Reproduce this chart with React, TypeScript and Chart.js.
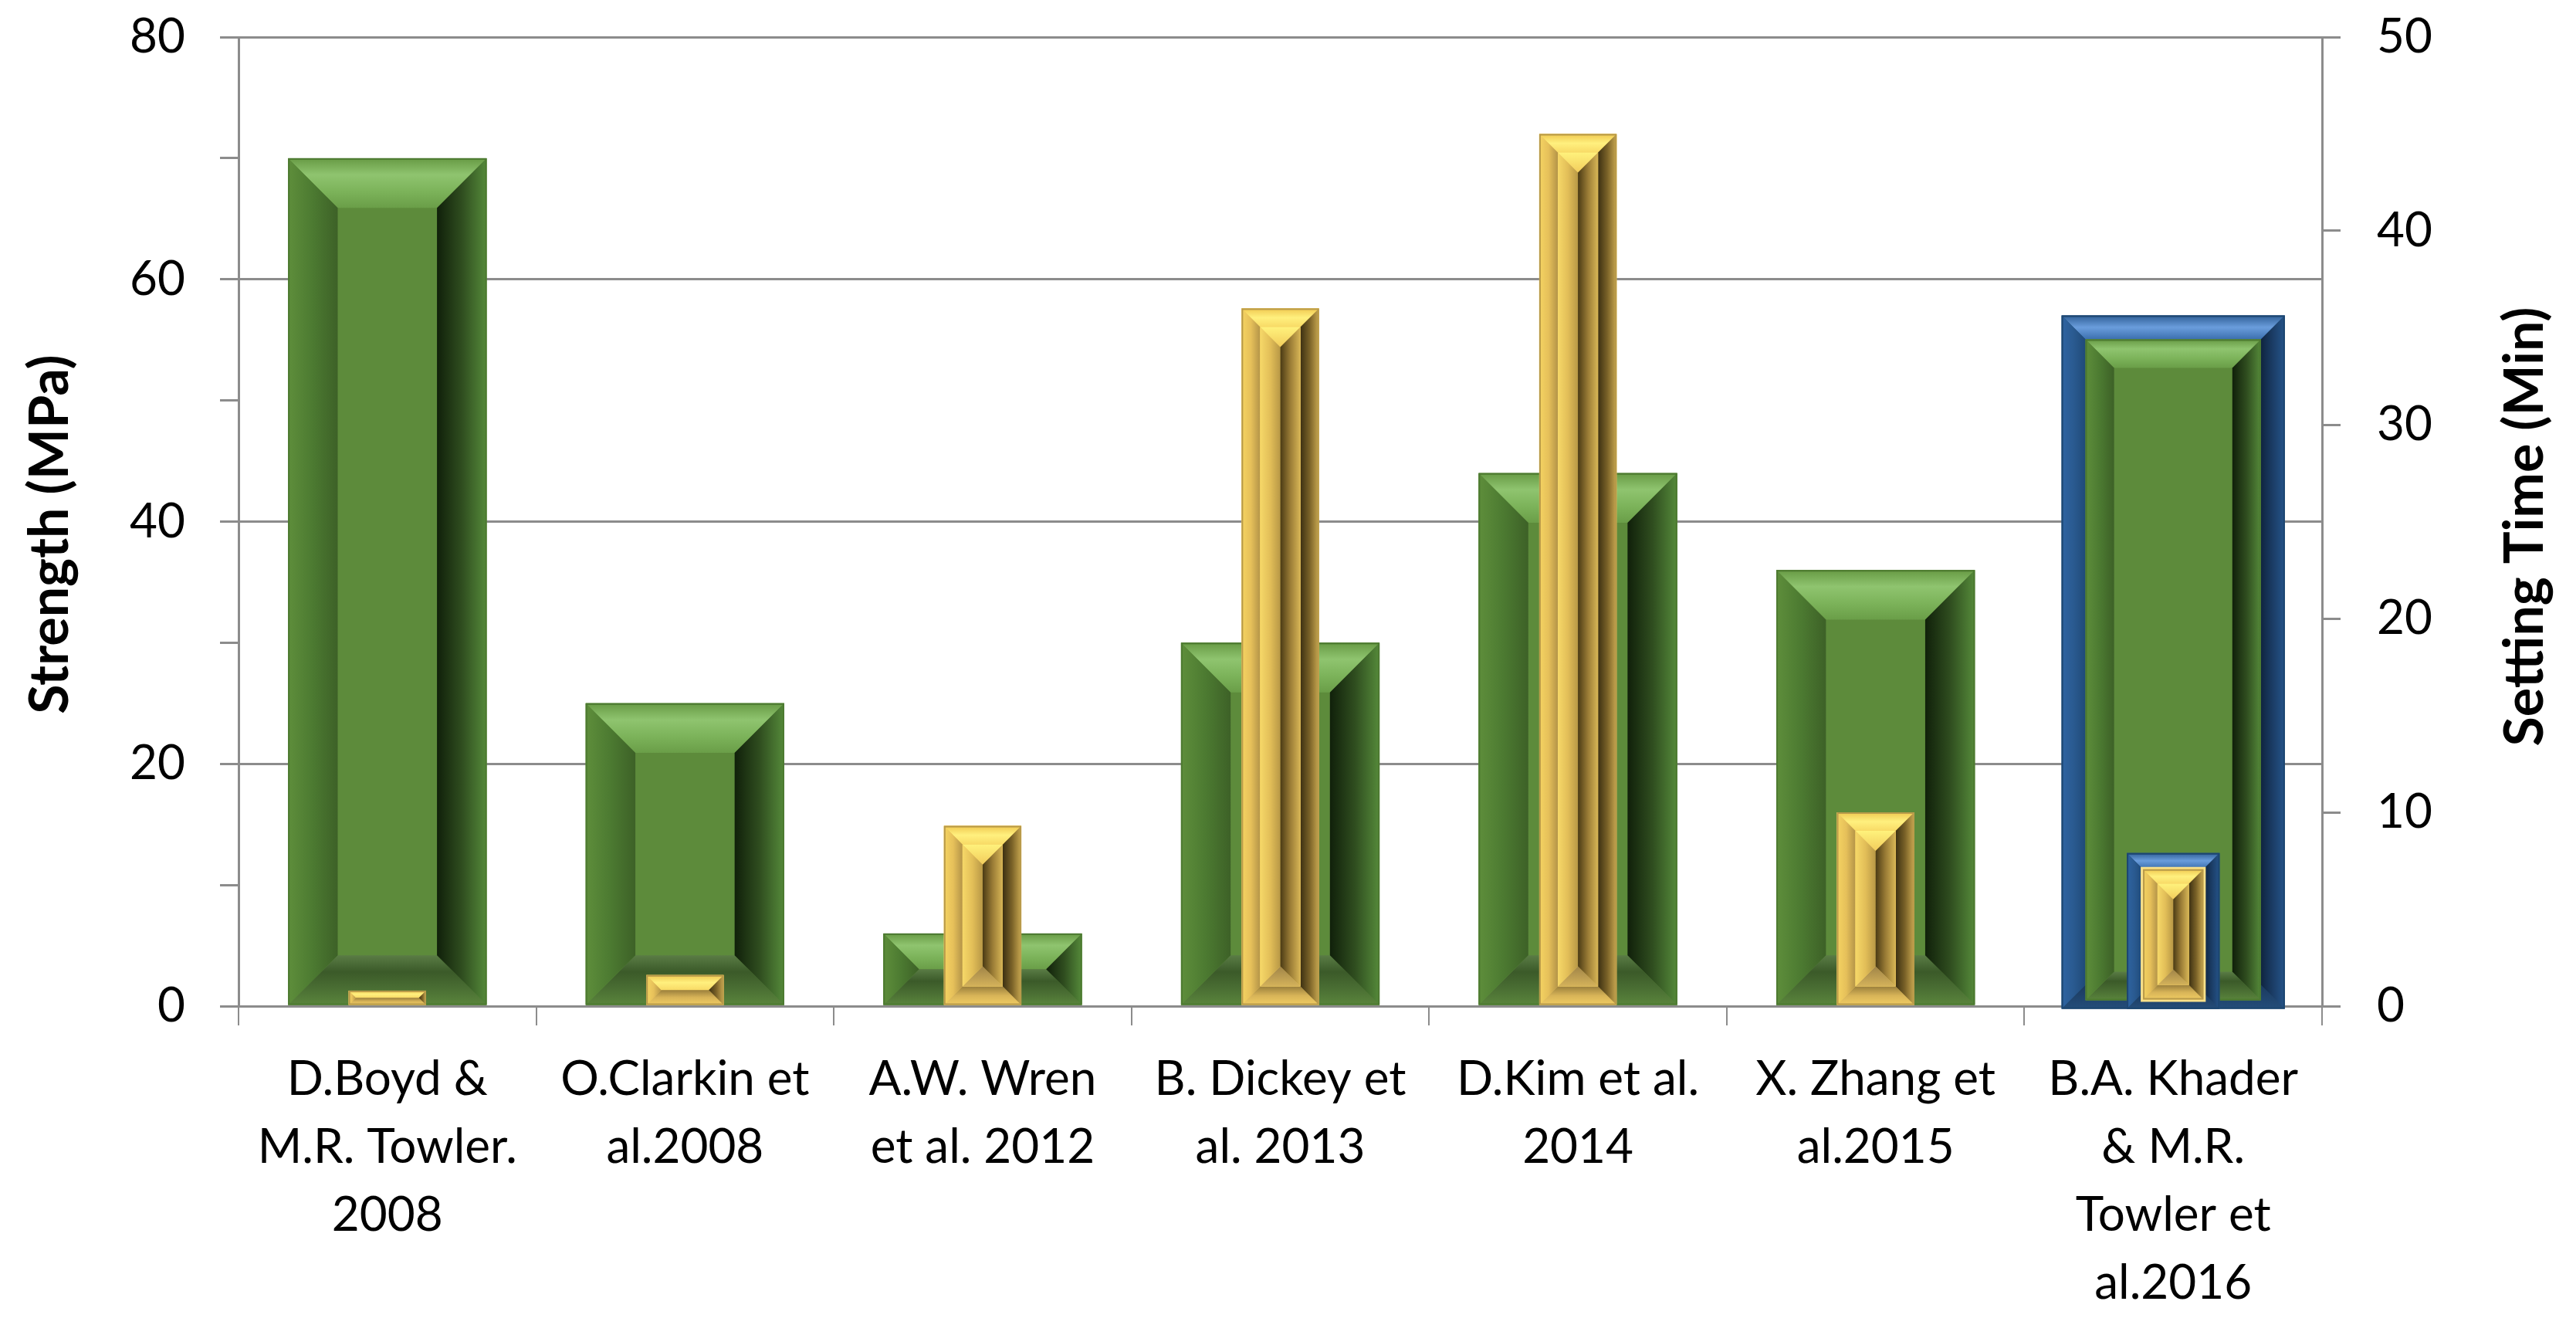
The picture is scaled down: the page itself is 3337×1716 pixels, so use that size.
import { useEffect, useRef } from "react";
import { Chart, registerables } from "chart.js";

Chart.register(...registerables);

const categories = [
  ["D.Boyd &", "M.R. Towler.", "2008"],
  ["O.Clarkin et", "al.2008"],
  ["A.W. Wren", "et al. 2012"],
  ["B. Dickey et", "al. 2013"],
  ["D.Kim et al.", "2014"],
  ["X. Zhang et", "al.2015"],
  ["B.A. Khader", "& M.R.", "Towler et", "al.2016"],
];
const strength = [70, 25, 6, 30, 44, 36, 56];
const settingTime = [0.8, 1.6, 9.3, 36, 45, 10, 7.5];
const strengthTicks = [0, 10, 20, 30, 40, 50, 60, 70, 80];
const timeTicks = [0, 10, 20, 30, 40, 50];
const highlighted = 6;

const leftTitle = "Strength (MPa)";
const rightTitle = "Setting Time (Min)";

const gray = "#8c8c8c";
const font = "Lato";

type Pal = {
  face?: string;
  top: string[];
  bottom: string[];
  left: string[];
  right: string[];
  edge?: string;
};

const greenPal: Pal = {
  face: "#5d8b3b",
  top: ["#679a44", "#8fc46f", "#7cb35a", "#6a9e48"],
  bottom: ["#5a7c45", "#3b5a29", "#4a6e33", "#5a853c"],
  left: ["#5e8e3b", "#4c7a31", "#3d6127"],
  right: ["#10200a", "#2f4d1f", "#558a3a"],
  edge: "#4d7a31",
};
const yellowOuter: Pal = {
  face: "#f2cb5e",
  top: ["#f0c850", "#fff07e", "#f8da66"],
  bottom: ["#9a7f3c", "#d8b458", "#f0cc62"],
  left: ["#f5d462", "#e6c05a", "#b49448"],
  right: ["#3c3012", "#7a6228", "#c9a850"],
  edge: "#b89a4a",
};
const yellowInner: Pal = {
  face: "#f4d064",
  top: ["#fff27c", "#f2cc5c"],
  bottom: ["#a08448", "#d4b25a"],
  left: ["#f6d868", "#e2be58", "#b89846"],
  right: ["#4a3a14", "#9a7c36", "#d8b656"],
};
const bluePal: Pal = {
  face: "#1f4e79",
  top: ["#2f5f96", "#6a9ddc", "#3b6fae"],
  bottom: ["#1b3a5e", "#244d7a"],
  left: ["#2e64a2", "#2a5a90", "#1f4a78"],
  right: ["#0f2440", "#1b3d66", "#25548a"],
  edge: "#1d4670",
};

function grad(ctx: CanvasRenderingContext2D, x0: number, y0: number, x1: number, y1: number, stops: string[]) {
  const g = ctx.createLinearGradient(x0, y0, x1, y1);
  stops.forEach((c, i) => g.addColorStop(stops.length === 1 ? 0 : i / (stops.length - 1), c));
  return g;
}

function poly(ctx: CanvasRenderingContext2D, pts: number[], fill: CanvasGradient | string) {
  ctx.beginPath();
  ctx.moveTo(pts[0], pts[1]);
  for (let i = 2; i < pts.length; i += 2) ctx.lineTo(pts[i], pts[i + 1]);
  ctx.closePath();
  ctx.fillStyle = fill;
  ctx.fill();
}

function bevel(ctx: CanvasRenderingContext2D, l: number, t: number, r: number, b: number, size: number, pal: Pal) {
  const w = r - l;
  const h = b - t;
  if (w <= 0 || h <= 0) return;
  const s = Math.min(size, w / 2, h / 2);
  if (pal.face) {
    ctx.fillStyle = pal.face;
    ctx.fillRect(l, t, w, h);
  }
  poly(ctx, [l, t, r, t, r - s, t + s, l + s, t + s], grad(ctx, 0, t, 0, t + s, pal.top));
  poly(ctx, [l, b, r, b, r - s, b - s, l + s, b - s], grad(ctx, 0, b - s, 0, b, pal.bottom));
  poly(ctx, [l, t, l + s, t + s, l + s, b - s, l, b], grad(ctx, l, 0, l + s, 0, pal.left));
  poly(ctx, [r, t, r - s, t + s, r - s, b - s, r, b], grad(ctx, r - s, 0, r, 0, pal.right));
  if (pal.edge) {
    ctx.strokeStyle = pal.edge;
    ctx.lineWidth = 2;
    ctx.strokeRect(l + 1, t + 1, w - 2, h - 2);
  }
}

function yellowBar(ctx: CanvasRenderingContext2D, l: number, t: number, r: number, b: number) {
  const w = r - l;
  const s1 = w * 0.24;
  bevel(ctx, l, t, r, b, s1, yellowOuter);
  const il = l + s1, ir = r - s1, it = t + s1, ib = b - s1;
  if (ir - il > 2 && ib - it > 2) bevel(ctx, il, it, ir, ib, (ir - il) / 2, yellowInner);
}

const bevelPlugin = {
  id: "bevel",
  afterDatasetDraw(chart: any, args: any) {
    const ctx: CanvasRenderingContext2D = chart.ctx;
    const meta = args.meta;
    ctx.save();
    meta.data.forEach((el: any, i: number) => {
      const p = el.getProps(["x", "y", "base", "width"], true);
      const l = p.x - p.width / 2;
      const r = p.x + p.width / 2;
      const t = Math.min(p.y, p.base);
      const b = Math.max(p.y, p.base);
      if (args.index === 0) {
        if (i === highlighted) {
          const e = 16;
          bevel(ctx, l - e, t - e, r + e, b + 5, 31, bluePal);
          bevel(ctx, l - e + 31, t - e + 31, r + e - 31, b - 6, 37, greenPal);
        } else {
          bevel(ctx, l, t, r, b, p.width * 0.25, greenPal);
        }
      } else {
        if (i === highlighted) {
          const e = 10;
          bevel(ctx, l - e, t - e, r + e, b + 5, 20, bluePal);
          ctx.fillStyle = "#f8e08a";
          ctx.fillRect(l - e + 18, t - e + 18, r - l + 2 * e - 36, b - t + e - 22);
          yellowBar(ctx, l - e + 21, t - e + 21, r + e - 21, b - 7);
        } else {
          yellowBar(ctx, l, t, r, b);
        }
      }
    });
    ctx.restore();
  },
};

const titlePlugin = {
  id: "axisTitles",
  afterDraw(chart: any) {
    const ctx: CanvasRenderingContext2D = chart.ctx;
    const draw = (text: string, x: number, y: number) => {
      ctx.save();
      ctx.fillStyle = "#000";
      ctx.font = `bold 70px ${font}`;
      ctx.textAlign = "center";
      ctx.textBaseline = "alphabetic";
      ctx.translate(x, y);
      ctx.rotate(-Math.PI / 2);
      ctx.fillText(text, 0, 0);
      ctx.restore();
    };
    draw(leftTitle, 88, 692);
    draw(rightTitle, 3294, 682);
  },
};

const App = () => {
  const canvasRef = useRef<HTMLCanvasElement | null>(null);
  const chartRef = useRef<Chart | null>(null);

  useEffect(() => {
    document.body.style.margin = "0";
    document.body.style.overflow = "hidden";
    if (chartRef.current) chartRef.current.destroy();
    if (!canvasRef.current) return;

    chartRef.current = new Chart(canvasRef.current, {
      type: "bar",
      data: {
        labels: categories,
        datasets: [
          {
            label: "Strength (MPa)",
            data: strength,
            yAxisID: "y",
            backgroundColor: "#5d8b3b",
            barPercentage: 0.667,
            categoryPercentage: 1,
            grouped: false,
            order: 2,
          },
          {
            label: "Setting Time (Min)",
            data: settingTime,
            yAxisID: "y1",
            backgroundColor: "#f2cb5e",
            barPercentage: 0.26,
            categoryPercentage: 1,
            grouped: false,
            order: 1,
          },
        ],
      },
      options: {
        responsive: true,
        maintainAspectRatio: false,
        animation: false,
        layout: { padding: { top: 48, left: 0, right: 0, bottom: 0 } },
        plugins: {
          legend: { display: false },
          tooltip: { enabled: false },
        },
        scales: {
          x: {
            afterFit: (scale: any) => {
              scale.height = 413;
            },
            grid: {
              offset: true,
              drawOnChartArea: false,
              tickLength: 25,
              color: gray,
              lineWidth: 2,
            },
            border: { display: true, color: gray, width: 3 },
            ticks: {
              autoSkip: false,
              maxRotation: 0,
              padding: 26,
              color: "#000",
              font: { family: font, size: 62, lineHeight: 1.42 },
            },
          },
          y: {
            position: "left",
            min: strengthTicks[0],
            max: strengthTicks[strengthTicks.length - 1],
            afterFit: (scale: any) => {
              scale.width = 309;
              scale.paddingTop = 0;
              scale.paddingBottom = 0;
            },
            afterBuildTicks: (scale: any) => {
              scale.ticks = strengthTicks.map((v) => ({ value: v }));
            },
            grid: {
              color: (c: any) => (c.tick && c.tick.value % 20 === 0 ? gray : "rgba(0,0,0,0)"),
              tickColor: gray,
              lineWidth: 3,
              tickLength: 24,
            },
            border: { display: true, color: gray, width: 3 },
            ticks: {
              padding: 45,
              color: "#000",
              font: { family: font, size: 62 },
              callback: (v: any) => (Number(v) % 20 === 0 ? String(v) : ""),
            },
          },
          y1: {
            position: "right",
            min: timeTicks[0],
            max: timeTicks[timeTicks.length - 1],
            afterFit: (scale: any) => {
              scale.width = 329;
              scale.paddingTop = 0;
              scale.paddingBottom = 0;
            },
            afterBuildTicks: (scale: any) => {
              scale.ticks = timeTicks.map((v) => ({ value: v }));
            },
            grid: {
              drawOnChartArea: false,
              color: gray,
              lineWidth: 3,
              tickLength: 24,
            },
            border: { display: true, color: gray, width: 3 },
            ticks: {
              padding: 47,
              color: "#000",
              font: { family: font, size: 62 },
            },
          },
        },
      },
      plugins: [bevelPlugin, titlePlugin],
    } as any);

    return () => {
      if (chartRef.current) {
        chartRef.current.destroy();
        chartRef.current = null;
      }
    };
  }, []);

  return (
    <div style={{ width: 3337, height: 1716, position: "relative", background: "#fff" }}>
      <canvas ref={canvasRef} />
    </div>
  );
};

export default App;
